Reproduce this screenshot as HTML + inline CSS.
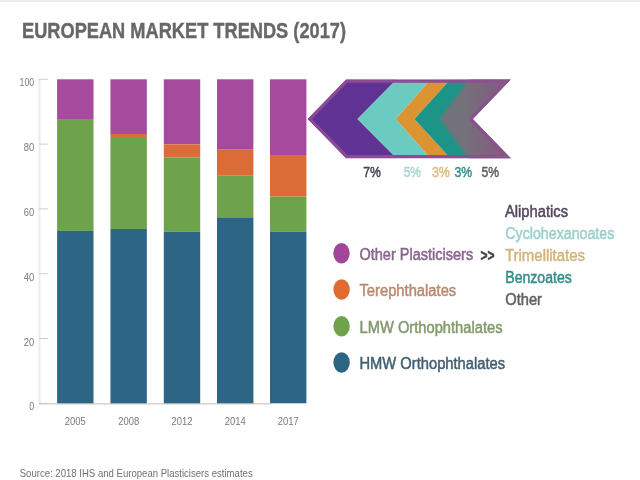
<!DOCTYPE html>
<html><head><meta charset="utf-8"><style>
html,body{margin:0;padding:0;background:#fff;}
body{width:640px;height:480px;overflow:hidden;position:relative;}
svg{position:absolute;left:0;top:0;filter:blur(0.45px);}
text{font-family:"Liberation Sans",sans-serif;}
.ax{font-size:10.5px;fill:#7a7a7a;}
.t{font-size:22px;font-weight:bold;fill:#676767;stroke:#676767;stroke-width:0.4px;}
.lg{font-size:16px;stroke-width:0.5px;}
.pc{font-size:15.5px;stroke-width:0.55px;}
.src{font-size:11px;fill:#707070;}
</style></head><body>
<svg width="640" height="480" viewBox="0 0 640 480">
<defs><clipPath id="cc"><polygon points="307.60,118.90 346.00,79.50 510.70,79.50 472.70,118.90 510.70,158.30 346.00,158.30"/></clipPath>
<linearGradient id="gg" gradientUnits="userSpaceOnUse" x1="436" y1="0" x2="508" y2="0"><stop offset="0" stop-color="#6f7377"/><stop offset="0.4" stop-color="#75707a"/><stop offset="1" stop-color="#865884"/></linearGradient>
<filter id="bl" x="-5%" y="-5%" width="110%" height="110%"><feGaussianBlur stdDeviation="0.6"/></filter>
<linearGradient id="bg" gradientUnits="userSpaceOnUse" x1="307" y1="0" x2="511" y2="0"><stop offset="0" stop-color="#8a4a97"/><stop offset="0.6" stop-color="#8d4c96"/><stop offset="1" stop-color="#8a5488"/></linearGradient>
<filter id="bl2" x="-20%" y="-20%" width="140%" height="140%"><feGaussianBlur stdDeviation="1.8"/></filter></defs>
<rect x="0" y="0" width="640" height="2" fill="#ebebeb"/>
<text x="22" y="38" class="t" textLength="324" lengthAdjust="spacingAndGlyphs">EUROPEAN MARKET TRENDS (2017)</text>
<rect x="38.5" y="79" width="2" height="325" fill="#ececec"/>
<rect x="39" y="403" width="232" height="1.6" fill="#d6d6d6"/>
<rect x="39" y="78.80" width="9" height="1" fill="#cfcfcf"/><text x="19.50" y="86.30" class="ax" textLength="14.8" lengthAdjust="spacingAndGlyphs">100</text><rect x="39" y="143.60" width="9" height="1" fill="#cfcfcf"/><text x="23.80" y="151.10" class="ax" textLength="10.5" lengthAdjust="spacingAndGlyphs">80</text><rect x="39" y="208.40" width="9" height="1" fill="#cfcfcf"/><text x="23.80" y="215.90" class="ax" textLength="10.5" lengthAdjust="spacingAndGlyphs">60</text><rect x="39" y="273.20" width="9" height="1" fill="#cfcfcf"/><text x="23.80" y="280.70" class="ax" textLength="10.5" lengthAdjust="spacingAndGlyphs">40</text><rect x="39" y="338.00" width="9" height="1" fill="#cfcfcf"/><text x="23.80" y="345.50" class="ax" textLength="10.5" lengthAdjust="spacingAndGlyphs">20</text><rect x="39" y="402.80" width="9" height="1" fill="#cfcfcf"/><text x="29.30" y="410.30" class="ax" textLength="5" lengthAdjust="spacingAndGlyphs">0</text>
<rect x="57.1" y="79.3" width="36.4" height="40.50" fill="#a64a9d"/><rect x="57.1" y="119.8" width="36.4" height="111.10" fill="#6ea24b"/><rect x="57.1" y="230.9" width="36.4" height="172.40" fill="#2d6685"/><rect x="110.45" y="79.3" width="36.4" height="54.70" fill="#a64a9d"/><rect x="110.45" y="134.0" width="36.4" height="3.00" fill="#db6b37"/><rect x="110.45" y="137.0" width="36.4" height="91.90" fill="#6ea24b"/><rect x="110.45" y="228.9" width="36.4" height="174.40" fill="#2d6685"/><rect x="163.8" y="79.3" width="36.4" height="65.10" fill="#a64a9d"/><rect x="163.8" y="144.4" width="36.4" height="13.20" fill="#db6b37"/><rect x="163.8" y="157.6" width="36.4" height="74.00" fill="#6ea24b"/><rect x="163.8" y="231.6" width="36.4" height="171.70" fill="#2d6685"/><rect x="217.0" y="79.3" width="36.4" height="70.40" fill="#a64a9d"/><rect x="217.0" y="149.7" width="36.4" height="25.60" fill="#db6b37"/><rect x="217.0" y="175.3" width="36.4" height="42.10" fill="#6ea24b"/><rect x="217.0" y="217.4" width="36.4" height="185.90" fill="#2d6685"/><rect x="270.0" y="79.3" width="36.4" height="75.70" fill="#a64a9d"/><rect x="270.0" y="155.0" width="36.4" height="41.60" fill="#db6b37"/><rect x="270.0" y="196.6" width="36.4" height="35.00" fill="#6ea24b"/><rect x="270.0" y="231.6" width="36.4" height="171.70" fill="#2d6685"/>
<text x="75.30" y="425.3" text-anchor="middle" class="ax" textLength="21" lengthAdjust="spacingAndGlyphs">2005</text><text x="128.65" y="425.3" text-anchor="middle" class="ax" textLength="21" lengthAdjust="spacingAndGlyphs">2008</text><text x="182.00" y="425.3" text-anchor="middle" class="ax" textLength="21" lengthAdjust="spacingAndGlyphs">2012</text><text x="235.20" y="425.3" text-anchor="middle" class="ax" textLength="21" lengthAdjust="spacingAndGlyphs">2014</text><text x="288.20" y="425.3" text-anchor="middle" class="ax" textLength="21" lengthAdjust="spacingAndGlyphs">2017</text>
<g filter="url(#bl)"><g clip-path="url(#cc)"><polygon points="307.60,118.90 346.00,79.50 396.50,79.50 357.50,118.90 396.50,158.30 346.00,158.30" fill="#5f3193"/><polygon points="357.50,118.90 396.50,79.50 430.50,79.50 395.80,118.90 430.50,158.30 396.50,158.30" fill="#6ccbc1"/><polygon points="395.80,118.90 430.50,79.50 450.30,79.50 414.40,118.90 450.30,158.30 430.50,158.30" fill="#dc9430"/><polygon points="414.40,118.90 450.30,79.50 530.70,79.50 492.70,118.90 530.70,158.30 450.30,158.30" fill="#1e9488"/><polygon points="440.00,118.90 476.36,69.50 545.00,69.50 545.00,168.30 476.36,168.30" fill="url(#gg)" filter="url(#bl2)"/><polygon points="307.60,118.90 346.00,79.50 510.70,79.50 472.70,118.90 510.70,158.30 346.00,158.30" fill="none" stroke="url(#bg)" stroke-width="6.5"/></g></g>
<text x="363.2" y="176.5" class="pc" fill="#4a4452" stroke="#4a4452" textLength="17.6" lengthAdjust="spacingAndGlyphs">7%</text><text x="403.7" y="176.5" class="pc" fill="#a9d8d4" stroke="#a9d8d4" textLength="17.3" lengthAdjust="spacingAndGlyphs">5%</text><text x="431.9" y="176.5" class="pc" fill="#dcbd88" stroke="#dcbd88" textLength="18.1" lengthAdjust="spacingAndGlyphs">3%</text><text x="454.6" y="176.5" class="pc" fill="#3b918b" stroke="#3b918b" textLength="17.6" lengthAdjust="spacingAndGlyphs">3%</text><text x="481.5" y="176.5" class="pc" fill="#626167" stroke="#626167" textLength="17.5" lengthAdjust="spacingAndGlyphs">5%</text><text x="359.4" y="260" class="lg" fill="#88668c" stroke="#88668c" textLength="113.8" lengthAdjust="spacingAndGlyphs">Other Plasticisers</text><text x="480.6" y="261.2" class="lg" fill="#444" stroke="#444" textLength="14" lengthAdjust="spacingAndGlyphs" font-weight="bold" font-size="15">&gt;&gt;</text><text x="359.5" y="296.3" class="lg" fill="#b98a70" stroke="#b98a70" textLength="96.7" lengthAdjust="spacingAndGlyphs">Terephthalates</text><text x="359.5" y="332.6" class="lg" fill="#82996e" stroke="#82996e" textLength="143" lengthAdjust="spacingAndGlyphs">LMW Orthophthalates</text><text x="359.5" y="368.8" class="lg" fill="#415e72" stroke="#415e72" textLength="145.5" lengthAdjust="spacingAndGlyphs">HMW Orthophthalates</text><text x="505" y="217" class="lg" fill="#54465f" stroke="#54465f" textLength="63" lengthAdjust="spacingAndGlyphs">Aliphatics</text><text x="505.3" y="238.9" class="lg" fill="#9bcfcb" stroke="#9bcfcb" textLength="109" lengthAdjust="spacingAndGlyphs">Cyclohexanoates</text><text x="505" y="261.3" class="lg" fill="#d3b47f" stroke="#d3b47f" textLength="80" lengthAdjust="spacingAndGlyphs">Trimellitates</text><text x="505.3" y="283.1" class="lg" fill="#348d87" stroke="#348d87" textLength="66.5" lengthAdjust="spacingAndGlyphs">Benzoates</text><text x="505.3" y="305.1" class="lg" fill="#606060" stroke="#606060" textLength="36.7" lengthAdjust="spacingAndGlyphs">Other</text>
<ellipse cx="341.5" cy="253.3" rx="8.2" ry="10.3" fill="#a0479b"/>
<ellipse cx="341.6" cy="289.5" rx="8.2" ry="10.3" fill="#e06a32"/>
<ellipse cx="341.6" cy="326.2" rx="8.2" ry="10.3" fill="#6fa24a"/>
<ellipse cx="341.6" cy="362.5" rx="8.2" ry="10.3" fill="#2d6484"/>
<text x="19.7" y="477" class="src" textLength="233" lengthAdjust="spacingAndGlyphs">Source: 2018 IHS and European Plasticisers estimates</text>
</svg>
</body></html>
